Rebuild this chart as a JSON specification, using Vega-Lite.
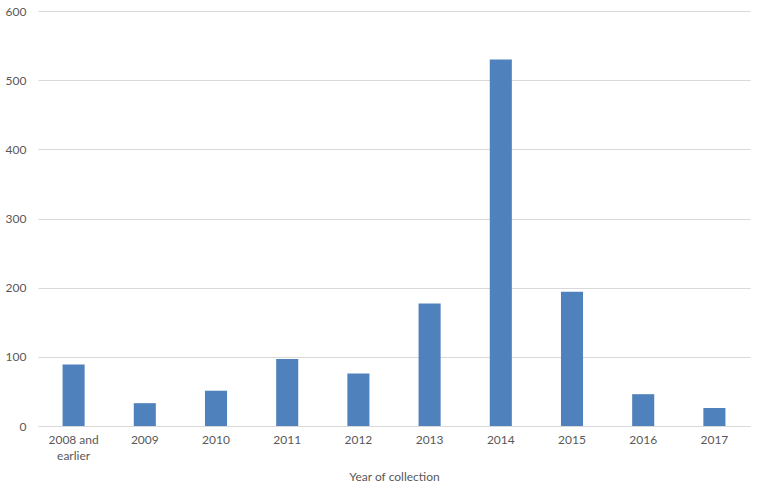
{
  "$schema": "https://vega.github.io/schema/vega-lite/v6.json",
  "width": 712,
  "height": 415,
  "autosize": "none",
  "padding": {"left": 38, "top": 11, "right": 12, "bottom": 71},
  "background": "white",
  "data": {
    "values": [
      {"year": "2008 and earlier", "count": 89},
      {"year": "2009", "count": 33},
      {"year": "2010", "count": 51},
      {"year": "2011", "count": 97},
      {"year": "2012", "count": 76},
      {"year": "2013", "count": 177},
      {"year": "2014", "count": 530},
      {"year": "2015", "count": 194},
      {"year": "2016", "count": 46},
      {"year": "2017", "count": 26}
    ]
  },
  "mark": {"type": "bar", "color": "#4F81BD"},
  "encoding": {
    "x": {
      "field": "year",
      "type": "nominal",
      "sort": null,
      "scale": {"paddingInner": 0.69, "paddingOuter": 0.345},
      "axis": {
        "title": "Year of collection",
        "labelAngle": 0,
        "labelExpr": "datum.label == '2008 and earlier' ? ['2008 and', 'earlier'] : datum.label",
        "labelFont": "Lato",
        "labelFontSize": 12,
        "labelColor": "#595959",
        "labelPadding": 8,
        "labelLineHeight": 16,
        "titleFont": "Lato",
        "titleFontSize": 12,
        "titleFontWeight": "normal",
        "titleColor": "#595959",
        "titlePadding": 10,
        "ticks": false,
        "domainColor": "#D9D9D9",
        "grid": false
      }
    },
    "y": {
      "field": "count",
      "type": "quantitative",
      "scale": {"domain": [0, 600]},
      "axis": {
        "title": null,
        "values": [0, 100, 200, 300, 400, 500, 600],
        "labelFont": "Lato",
        "labelFontSize": 12,
        "labelColor": "#595959",
        "labelPadding": 12,
        "ticks": false,
        "domain": false,
        "gridColor": "#D9D9D9"
      }
    }
  },
  "config": {"view": {"stroke": null}}
}
